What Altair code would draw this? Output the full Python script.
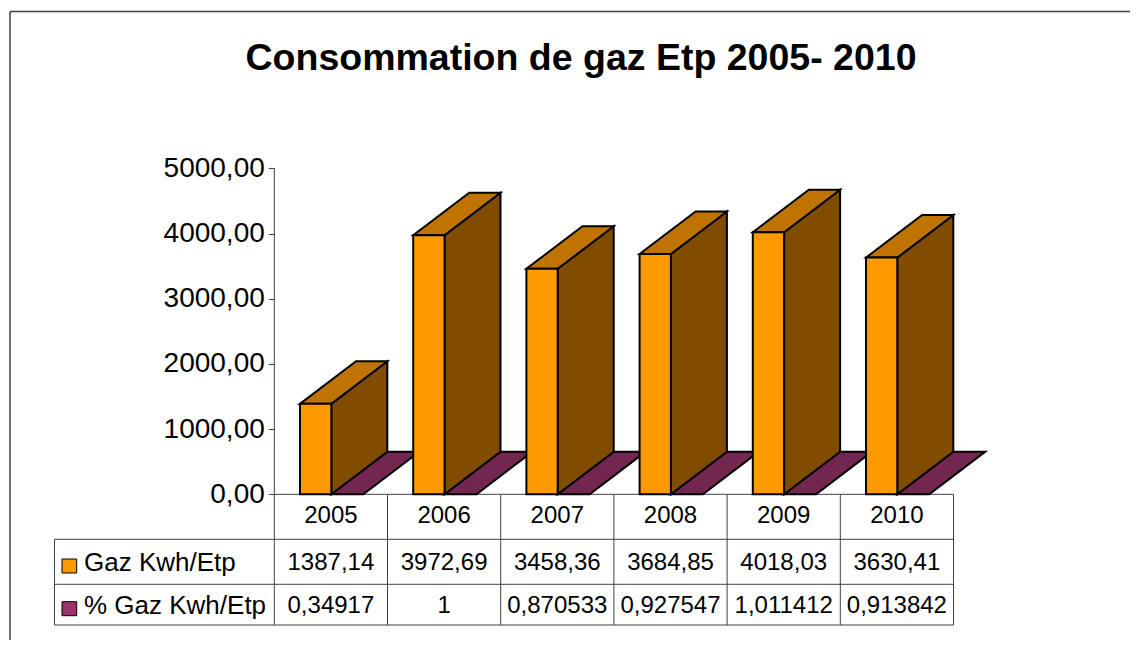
import altair as alt
import pandas as pd

# ---- chart values ----
years = ["2005", "2006", "2007", "2008", "2009", "2010"]
gaz = [1387.14, 3972.69, 3458.36, 3684.85, 4018.03, 3630.41]
pct = [0.34917, 1, 0.870533, 0.927547, 1.011412, 0.913842]
gaz_labels = ["1387,14", "3972,69", "3458,36", "3684,85", "4018,03", "3630,41"]
pct_labels = ["0,34917", "1", "0,870533", "0,927547", "1,011412", "0,913842"]
series_names = ["Gaz Kwh/Etp", "% Gaz Kwh/Etp"]
y_ticks = [0, 1000, 2000, 3000, 4000, 5000]
title_text = "Consommation de gaz Etp 2005- 2010"

# ---- layout (slot units on x, value units on y) ----
W, H = 1122, 632
PX0, SLOT = 274.3, 113.2     # page x of first slot, slot width
PY0, UNIT = 494.3, 0.0652    # page y of zero, pixels per value unit
def sx(px): return (px - PX0) / SLOT
def vy(py): return (PY0 - py) / UNIT

x_scale = alt.Scale(domain=[sx(8), sx(8 + W)], nice=False, zero=False)
y_scale = alt.Scale(domain=[vy(8 + H), vy(8)], nice=False, zero=False)

BAR_L = sx(300.0) - sx(PX0)
BAR_W = 31.3 / SLOT
FLOOR_W = 32.0 / SLOT
DX = 56.0 / SLOT
DY = 42.6 / UNIT
INK = "#000000"
LINE = "#404040"
FONT = "Liberation Sans"

# the one y axis, moved onto the first table column; every layer shares it
y_axis = alt.Axis(
    values=y_ticks, title=None, grid=False, domain=False, offset=-(PX0 - 8),
    tickSize=6, tickColor=LINE, tickWidth=1, labelPadding=4,
    labelFont=FONT, labelFontSize=28, labelColor=INK, orient="left",
    labelExpr="replace(format(datum.value, '.2f'), '.', ',')")

X = alt.X("x:Q", scale=x_scale, axis=None, stack=None)
X2 = alt.X2("x2:Q")
Y = alt.Y("y:Q", scale=y_scale, stack=None, axis=y_axis)
Y2 = alt.Y2("y2:Q")

front, side, top, floor = [], [], [], []
for i, (yr, v, p) in enumerate(zip(years, gaz, pct)):
    l = i + BAR_L
    r = l + BAR_W
    front.append(dict(x=l, x2=r, y=0, y2=v))
    side += [dict(k=yr, x=r, y=0, y2=v), dict(k=yr, x=r + DX, y=DY, y2=v + DY)]
    top += [dict(k=yr, y=v, x=l, x2=r), dict(k=yr, y=v + DY, x=l + DX, x2=r + DX)]
    floor += [dict(k=yr, y=p, x=r, x2=r + FLOOR_W), dict(k=yr, y=p + DY, x=r + DX, x2=r + FLOOR_W + DX)]

floor_layer = alt.Chart(pd.DataFrame(floor)).mark_area(
    orient="horizontal", color="#732650", stroke=INK, strokeWidth=2
).encode(y=Y, x=X, x2=X2, detail="k:N")
side_layer = alt.Chart(pd.DataFrame(side)).mark_area(
    color="#7F4C00", stroke=INK, strokeWidth=2
).encode(x=X, y=Y, y2=Y2, detail="k:N")
top_layer = alt.Chart(pd.DataFrame(top)).mark_area(
    orient="horizontal", color="#BF7300", stroke=INK, strokeWidth=2
).encode(y=Y, x=X, x2=X2, detail="k:N")
front_layer = alt.Chart(pd.DataFrame(front)).mark_rect(
    color="#FF9900", stroke=INK, strokeWidth=2
).encode(x=X, x2=X2, y=Y, y2=Y2)

# table and axis lines
rows = [539.3, 584.3, 625.0]
left = 54.5
lines = [dict(x=0, x2=6, y=0, y2=0)]
lines += [dict(x=sx(left), x2=6, y=vy(r), y2=vy(r)) for r in rows]
lines += [dict(x=i, x2=i, y=0, y2=vy(625.0)) for i in range(1, 7)]
lines += [dict(x=0, x2=0, y=5000, y2=vy(625.0))]
lines += [dict(x=sx(left), x2=sx(left), y=vy(539.3), y2=vy(625.0))]
line_layer = alt.Chart(pd.DataFrame(lines)).mark_rule(color=LINE, strokeWidth=1).encode(
    x=X, x2=X2, y=Y, y2=Y2)

# outer frame: left and top edges only
frame = [dict(x=sx(10), x2=sx(10), y=vy(11.5), y2=vy(8 + H)),
         dict(x=sx(10), x2=sx(8 + W), y=vy(11.5), y2=vy(11.5))]
frame_layer = alt.Chart(pd.DataFrame(frame)).mark_rule(color="#404040", strokeWidth=1.5).encode(
    x=X, x2=X2, y=Y, y2=Y2)

# table cells
cells = []
for i in range(6):
    cells.append(dict(x=i + 0.5, y=vy(523.0), t=years[i]))
    cells.append(dict(x=i + 0.5, y=vy(570.0), t=gaz_labels[i]))
    cells.append(dict(x=i + 0.5, y=vy(612.5), t=pct_labels[i]))
cell_layer = alt.Chart(pd.DataFrame(cells)).mark_text(
    font=FONT, fontSize=24, color=INK, align="center", baseline="alphabetic"
).encode(x=X, y=Y, text="t:N")

names = [dict(x=sx(84), y=vy(571.0), t=series_names[0]),
         dict(x=sx(84), y=vy(614.0), t=series_names[1])]
name_layer = alt.Chart(pd.DataFrame(names)).mark_text(
    font=FONT, fontSize=26, color=INK, align="left", baseline="alphabetic"
).encode(x=X, y=Y, text="t:N")

swatches = [dict(x=sx(62), x2=sx(76.7), y=vy(573), y2=vy(559), c="#FF9900"),
            dict(x=sx(62), x2=sx(76.7), y=vy(615.7), y2=vy(601.7), c="#993366")]
swatch_layer = alt.Chart(pd.DataFrame(swatches)).mark_rect(stroke=INK, strokeWidth=1).encode(
    x=X, x2=X2, y=Y, y2=Y2, fill=alt.Fill("c:N", scale=None))

chart = alt.layer(
    frame_layer, line_layer, floor_layer, side_layer, top_layer, front_layer,
    cell_layer, name_layer, swatch_layer,
).properties(
    width=W, height=H, padding=0, autosize=alt.AutoSizeParams(type="none"),
    title=alt.TitleParams(title_text, font=FONT, fontSize=37.5, fontWeight="bold", color=INK,
                          anchor="middle", dx=12, offset=-69.5),
).configure_view(stroke=None)

chart.save("out.html", embed_options={"renderer": "svg", "actions": False})
